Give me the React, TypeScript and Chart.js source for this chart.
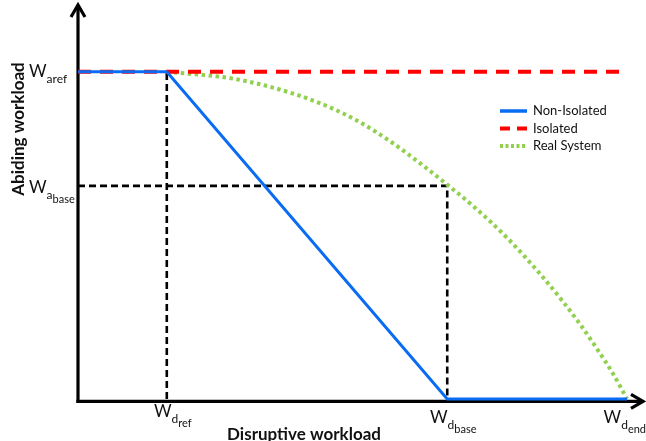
import React, { useEffect, useRef } from "react";
import { Chart, registerables } from "chart.js";

Chart.register(...registerables);

// Key workload levels (arbitrary units, 0..100 on each axis)
const D_REF = 15.8;
const D_BASE = 65.7;
const D_END = 97.7;
const A_REF = 84.1;
const A_BASE = 54.8;

// Series
const nonIsolatedX = [0, D_REF, D_BASE, D_END];
const nonIsolatedY = [A_REF, A_REF, 0, 0];
const isolatedX = [0, 96.3];
const isolatedY = [A_REF, A_REF];
const realX = [15.8, 26.5, 32.4, 38.3, 44.3, 49.6, 55.5, 61.4, 65.7, 70.3, 76.3, 82.2, 86.3, 89.3, 92.3, 95.2, 97.7];
const realY = [84.1, 82.6, 80.9, 78.5, 75.3, 71.6, 66.3, 60.0, 55.1, 49.6, 41.5, 32.2, 25.0, 19.3, 13.0, 6.5, 0];
const guideRefX = [D_REF, D_REF];
const guideRefY = [0, A_REF];
const guideBaseX = [0, D_BASE, D_BASE];
const guideBaseY = [A_BASE, A_BASE, 0];

// Tick labels (W with subscripts)
const yTickValues = [A_REF, A_BASE];
const yTickSubs = ["aref", "a"];
const yTickSubSubs = ["", "base"];
const xTickValues = [D_REF, D_BASE, D_END];
const xTickSubs = ["d", "d", "d"];
const xTickSubSubs = ["ref", "base", "end"];

const seriesLabels = ["Non-Isolated", "Isolated", "Real System"];
const xTitle = "Disruptive workload";
const yTitle = "Abiding workload";

const FONT = "Lato, 'Open Sans', sans-serif";

const toPts = (xs: number[], ys: number[]) => xs.map((x, i) => ({ x, y: ys[i] }));

function drawW(ctx: CanvasRenderingContext2D, x: number, base: number, sub: string, subsub: string) {
  ctx.textAlign = "left";
  ctx.textBaseline = "alphabetic";
  ctx.fillStyle = "#111";
  ctx.font = `17px ${FONT}`;
  ctx.fillText("W", x, base);
  let cx = x + ctx.measureText("W").width;
  ctx.font = `12px ${FONT}`;
  ctx.fillText(sub, cx, base + 6);
  cx += ctx.measureText(sub).width;
  if (subsub) {
    ctx.font = `11px ${FONT}`;
    ctx.fillText(subsub, cx, base + 10);
  }
}

function wWidth(ctx: CanvasRenderingContext2D, sub: string, subsub: string) {
  ctx.font = `17px ${FONT}`;
  let w = ctx.measureText("W").width;
  ctx.font = `12px ${FONT}`;
  w += ctx.measureText(sub).width;
  if (subsub) {
    ctx.font = `11px ${FONT}`;
    w += ctx.measureText(subsub).width;
  }
  return w;
}

const overlayPlugin = {
  id: "overlay",
  beforeDatasetsDraw(chart: any) {
    const { ctx, chartArea } = chart;
    const ax = chartArea.left;
    const ay = chartArea.bottom + 2.3;
    ctx.save();
    ctx.strokeStyle = "#000";
    ctx.lineWidth = 3.2;
    ctx.setLineDash([]);
    ctx.lineCap = "butt";
    ctx.lineJoin = "miter";
    // y axis
    ctx.beginPath();
    ctx.moveTo(ax, ay + 1.6);
    ctx.lineTo(ax, 6);
    ctx.stroke();
    ctx.beginPath();
    ctx.moveTo(ax - 7, 17);
    ctx.lineTo(ax, 5);
    ctx.lineTo(ax + 7, 17);
    ctx.stroke();
    // x axis
    ctx.beginPath();
    ctx.moveTo(ax - 1.6, ay);
    ctx.lineTo(642, ay);
    ctx.stroke();
    ctx.beginPath();
    ctx.moveTo(631, ay - 7);
    ctx.lineTo(643, ay);
    ctx.lineTo(631, ay + 7);
    ctx.stroke();
    ctx.restore();
  },
  afterDraw(chart: any) {
    const { ctx } = chart;
    const xs = chart.scales.x;
    const ys = chart.scales.y;
    ctx.save();
    // y tick labels
    yTickValues.forEach((v, i) => {
      const py = ys.getPixelForValue(v);
      drawW(ctx, 29, py + 5 + (yTickSubSubs[i] ? 2 : 0), yTickSubs[i], yTickSubSubs[i]);
    });
    // x tick labels
    xTickValues.forEach((v, i) => {
      const px = xs.getPixelForValue(v);
      const w = wWidth(ctx, xTickSubs[i], xTickSubSubs[i]);
      let left = px + 6 - w / 2;
      if (left + w > 646) left = 646 - w;
      const base = i === 0 ? 417 : 423;
      drawW(ctx, left, base, xTickSubs[i], xTickSubSubs[i]);
    });
    // axis titles
    ctx.fillStyle = "#111";
    ctx.font = `bold 17px ${FONT}`;
    ctx.textAlign = "center";
    ctx.textBaseline = "alphabetic";
    ctx.fillText(xTitle, 304, 440);
    ctx.save();
    ctx.translate(24, 129);
    ctx.rotate(-Math.PI / 2);
    ctx.fillText(yTitle, 0, 0);
    ctx.restore();
    // legend
    const rows = [111, 128.5, 146];
    const legendDash = [[], [10, 7], [3, 2.5]];
    chart.data.datasets.slice(0, 3).forEach((ds: any, i: number) => {
      const y = rows[i];
      ctx.strokeStyle = ds.borderColor;
      ctx.lineWidth = i === 0 ? 3.5 : 4;
      ctx.setLineDash(legendDash[i]);
      ctx.lineCap = "butt";
      ctx.beginPath();
      ctx.moveTo(500, y);
      ctx.lineTo(527, y);
      ctx.stroke();
      ctx.setLineDash([]);
      ctx.fillStyle = "#111";
      ctx.font = `13px ${FONT}`;
      ctx.textAlign = "left";
      ctx.textBaseline = "middle";
      ctx.fillText(ds.label, 533, y);
    });
    ctx.restore();
  },
};

export default function App() {
  const ref = useRef<HTMLCanvasElement | null>(null);
  useEffect(() => {
    if (!ref.current) return;
    const chart = new Chart(ref.current, {
      type: "line",
      data: {
        datasets: [
          {
            label: seriesLabels[0],
            data: toPts(nonIsolatedX, nonIsolatedY),
            borderColor: "#0a6cf2",
            borderWidth: 3,
            pointRadius: 0,
            tension: 0,
            clip: false,
          },
          {
            label: seriesLabels[1],
            data: toPts(isolatedX, isolatedY),
            borderColor: "#ff0000",
            borderWidth: 4,
            borderDash: [13, 9],
            pointRadius: 0,
            tension: 0,
            clip: false,
          },
          {
            label: seriesLabels[2],
            data: toPts(realX, realY),
            borderColor: "#92d050",
            borderWidth: 4,
            borderDash: [3.5, 3.5],
            pointRadius: 0,
            cubicInterpolationMode: "monotone",
            clip: false,
          },
          {
            label: "guide-ref",
            data: toPts(guideRefX, guideRefY),
            borderColor: "#000",
            borderWidth: 2.6,
            borderDash: [7, 4],
            pointRadius: 0,
            tension: 0,
            clip: false,
          },
          {
            label: "guide-base",
            data: toPts(guideBaseX, guideBaseY),
            borderColor: "#000",
            borderWidth: 2.6,
            borderDash: [7, 4],
            pointRadius: 0,
            tension: 0,
            clip: false,
          },
        ],
      } as any,
      options: {
        animation: false,
        responsive: false,
        devicePixelRatio: 1,
        layout: { padding: { left: 78, right: 6, top: 10, bottom: 42 } },
        scales: {
          x: { type: "linear", min: 0, max: 100, display: false },
          y: { type: "linear", min: 0, max: 100, display: false },
        },
        plugins: {
          legend: { display: false },
          tooltip: { enabled: false },
        },
      } as any,
      plugins: [overlayPlugin],
    });
    return () => chart.destroy();
  }, []);
  return (
    <div style={{ position: "fixed", left: 0, top: 0, width: 646, height: 441, background: "#fff" }}>
      <canvas ref={ref} width={646} height={441} style={{ display: "block" }} />
    </div>
  );
}
